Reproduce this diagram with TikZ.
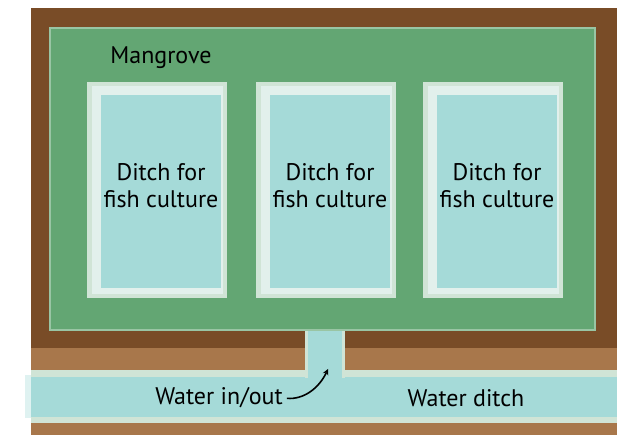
\documentclass[tikz,border=0pt]{standalone}
\usepackage{fontspec}
\setmainfont{PT Sans}
\definecolor{bank}{HTML}{794C27}
\definecolor{soil}{HTML}{A8774B}
\definecolor{mangrove}{HTML}{63A673}
\definecolor{water}{HTML}{A5DAD8}
\definecolor{pale}{HTML}{D0E4D6}
\definecolor{rim}{HTML}{E2F0EC}
\begin{document}
\begin{tikzpicture}[x=1pt,y=-1pt,
  label/.style={font=\fontsize{24}{27}\selectfont, align=center, inner sep=0pt}]
\useasboundingbox (0,0) rectangle (627,435);

% Banks round the pond and soil below
\fill[bank] (31,8) rectangle (617,348);
\fill[soil] (31,348) rectangle (617,435);

% Water ditch along the bottom
\fill[pale] (31,370) rectangle (617,423);
\fill[water!35!white] (25,375) rectangle (31,418);
\fill[water] (31,377) rectangle (617,417);

% Gate between mangrove and water ditch
\fill[pale] (305,328) rectangle (345,378);
\fill[water] (308,328) rectangle (342,379);

% Mangrove area
\filldraw[fill=mangrove, draw=pale!50!mangrove, line width=1.2pt] (50,28) rectangle (595,330);
\node[label] (mangrove) at (161,58) {Mangrove};

% Ditches for fish culture
\foreach \x/\n in {87/1,256/2,423/3}{
  \fill[pale] (\x,82) rectangle ++(140,216);
  \fill[rim] (\x+5,86) rectangle (\x+136,294);
  \fill[water] (\x+14,95) rectangle (\x+134,288);
  \node[label] (ditch\n) at (\x+74,186) {Ditch for\\fish culture};
}

% Labels on the water ditch
\node[label] (inout) at (219,398) {Water in/out};
\node[label] (waterditch) at (466,398) {Water ditch};
\coordinate (gate) at (328,369);
\draw[-{stealth}, line width=1.6pt, shorten <=4pt] (inout.east) to[out=-5, in=-115] (gate);

\end{tikzpicture}
\end{document}
